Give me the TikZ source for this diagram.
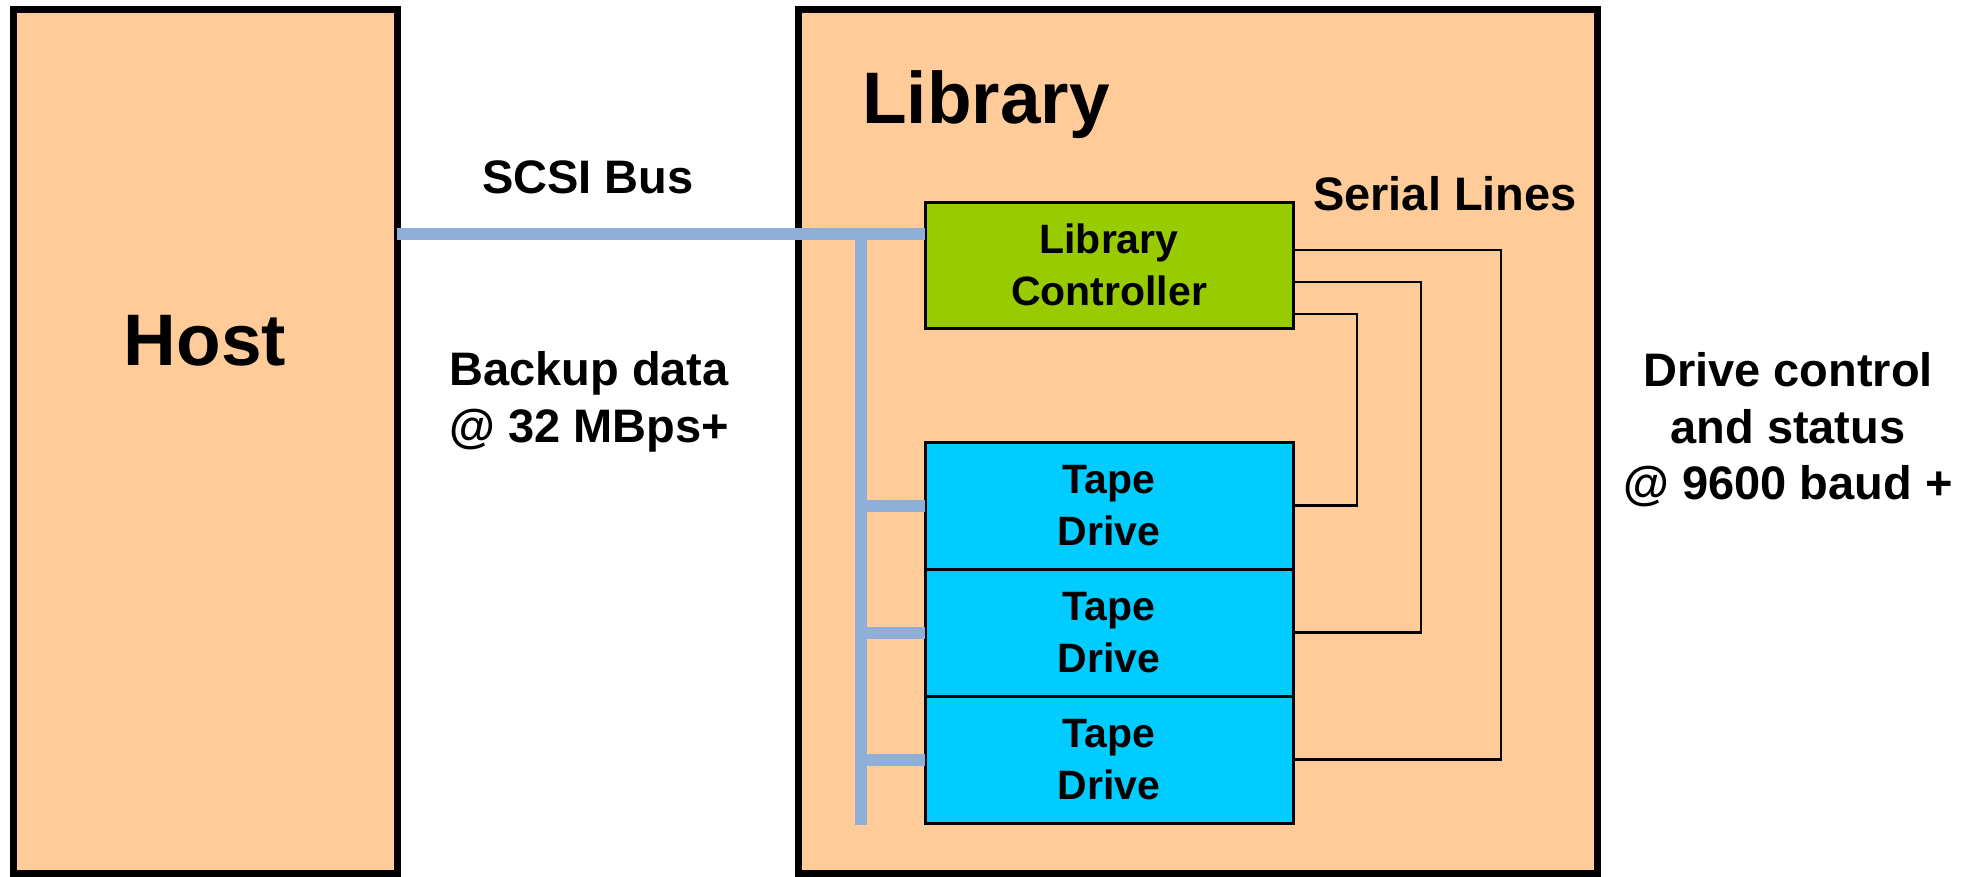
\documentclass[tikz,border=0pt]{standalone}
\usepackage{fontspec}
\setmainfont{Liberation Sans}
\definecolor{peach}{RGB}{255,204,153}
\definecolor{greenfill}{RGB}{153,204,0}
\definecolor{cyanfill}{RGB}{0,204,255}
\definecolor{busblue}{RGB}{143,174,216}
\begin{document}
\begin{tikzpicture}[x=1pt,y=-1pt,
  bigbox/.style={draw, line width=7pt, fill=peach, inner sep=0pt, outer sep=0pt},
  unitbox/.style={draw, line width=3pt, inner sep=0pt, outer sep=0pt, minimum width=368pt, minimum height=126pt, align=center, font=\fontsize{41}{52}\selectfont\bfseries},
  drivebox/.style={unitbox, fill=cyanfill, minimum height=127pt},
  bus/.style={draw=busblue, line width=12pt},
  serial/.style={draw, line width=2.5pt},
  lbl/.style={inner sep=0pt, align=center, font=\fontsize{47}{56.5}\selectfont\bfseries},
  titlelbl/.style={inner sep=0pt, font=\fontsize{73}{80}\selectfont\bfseries}]
\useasboundingbox (0,0) rectangle (1974,876);
% big boxes
\node[bigbox, minimum width=384pt, minimum height=863.8pt] (host) at (205,441.6) {};
\node[bigbox, minimum width=799pt, minimum height=863.8pt] (lib) at (1197.5,441.6) {};
% labels
\node[titlelbl, anchor=base] (hostlbl) at (205,365) {Host};
\node[titlelbl, anchor=base west] (liblbl) at (862,123) {Library};
\node[lbl, anchor=base] (scsilbl) at (588,193) {SCSI Bus};
\node[lbl] (backlbl) at (589,402) {Backup data\\@ 32 MBps+};
\node[lbl, anchor=base] (serlbl) at (1445,210) {Serial Lines};
\node[lbl] (drvlbl) at (1788,430) {Drive control\\and status\\@ 9600 baud +};
% inner units
\node[unitbox, fill=greenfill] (ctrl) at (1109,265) {Library\\Controller};
\node[drivebox] (d1) at (1109,505.5) {Tape\\Drive};
\node[drivebox] (d2) at (1109,632.5) {Tape\\Drive};
\node[drivebox] (d3) at (1109,759.5) {Tape\\Drive};
% SCSI bus
\coordinate (scsiend) at ([yshift=31pt]ctrl.west);
\coordinate (bustop) at (861,234);
\coordinate (busbot) at (861,825);
\draw[bus] (host.east |- scsiend) -- (scsiend);
\draw[bus] (bustop) -- (busbot);
\draw[bus] (bustop |- d1.west) -- (d1.west);
\draw[bus] (bustop |- d2.west) -- (d2.west);
\draw[bus] (bustop |- d3.west) -- (d3.west);
% serial lines
\coordinate (s1) at (1501,250);
\coordinate (s2) at (1421,282);
\coordinate (s3) at (1357,314);
\draw[serial] (ctrl.east |- s1) -- (s1) |- (d3.east);
\draw[serial] (ctrl.east |- s2) -- (s2) |- (d2.east);
\draw[serial] (ctrl.east |- s3) -- (s3) |- (d1.east);
\end{tikzpicture}
\end{document}
